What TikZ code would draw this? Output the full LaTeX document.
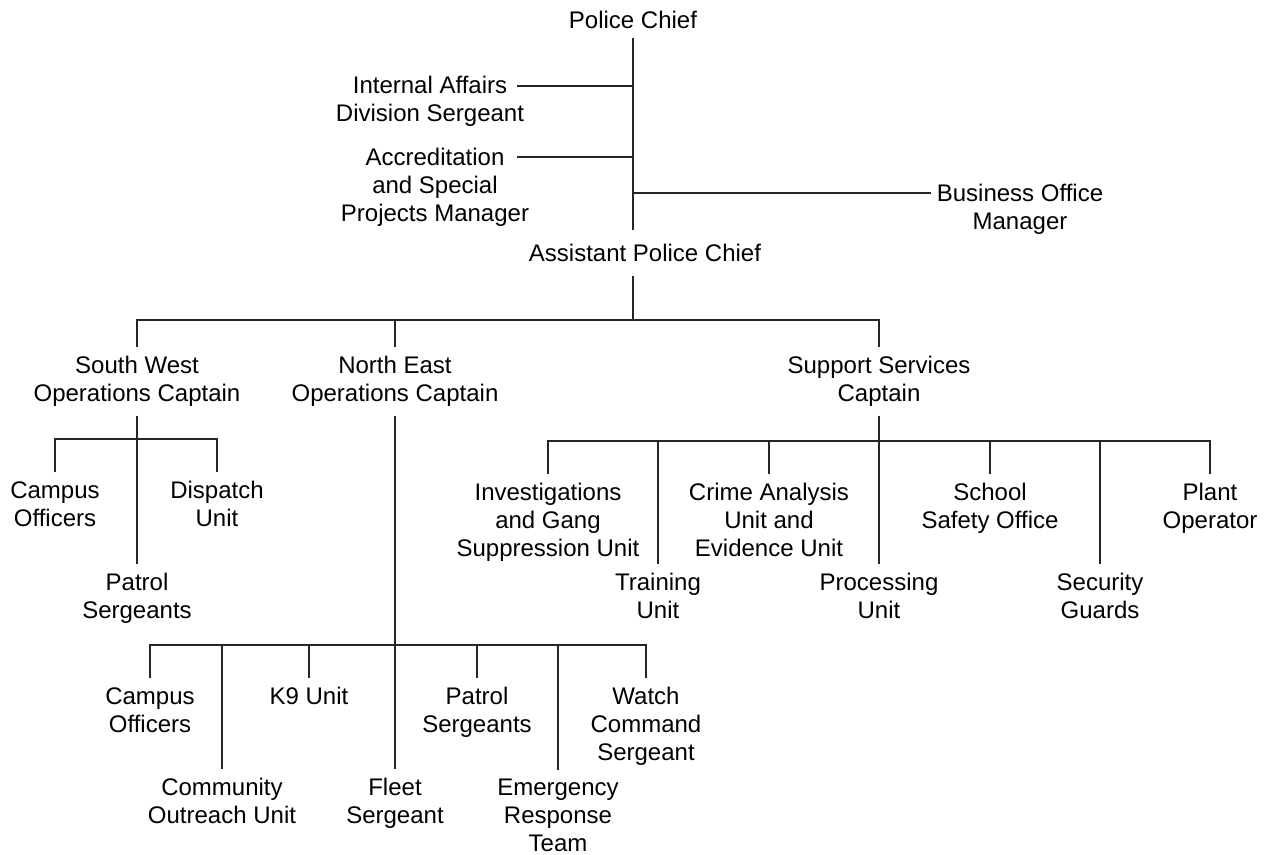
\documentclass[tikz,border=0pt]{standalone}
\usepackage{fontspec}
\setmainfont{Liberation Sans}
\begin{document}
\begin{tikzpicture}[x=0.75pt,y=-0.75pt,
  unit/.style={anchor=base,align=center,inner xsep=4.5pt,inner ysep=6.75pt,
    font=\fontsize{18}{21}\selectfont},
  conn/.style={draw=black!85,line width=0.9pt}]
\useasboundingbox[fill=white] (0,0) rectangle (1271,855);

% --- top of the command chain (node positions are last-line baselines)
\node[unit] (pc) at (633,29) {Police Chief};
\node[unit] (ia) at (430,122) {Internal Affairs\\Division Sergeant};
\node[unit] (acc) at (435,221.5) {Accreditation\\and Special\\Projects Manager};
\node[unit] (bom) at (1020,229.5) {Business Office\\Manager};
\node[unit,inner ysep=10.5pt] (apc) at (645,262) {Assistant Police Chief};

% --- captains
\node[unit] (sw) at (137,401.5) {South West\\Operations Captain};
\node[unit] (ne) at (395,401.5) {North East\\Operations Captain};
\node[unit] (ss) at (879,401.5) {Support Services\\Captain};

% --- south west units
\node[unit] (swco) at (55,526.5) {Campus\\Officers};
\node[unit] (swdu) at (217,526.5) {Dispatch\\Unit};
\node[unit] (swps) at (137,618.5) {Patrol\\Sergeants};

% --- north east units
\node[unit] (neco) at (150,732.5) {Campus\\Officers};
\node[unit] (necu) at (222,823.5) {Community\\Outreach Unit};
\node[unit] (nek9) at (309,704.5) {K9 Unit};
\node[unit] (nefs) at (395,823.5) {Fleet\\Sergeant};
\node[unit] (neps) at (477,732.5) {Patrol\\Sergeants};
\node[unit] (neer) at (558,851.5) {Emergency\\Response\\Team};
\node[unit] (newc) at (646,760.5) {Watch\\Command\\Sergeant};

% --- support services units
\node[unit] (igs) at (548,556.5) {Investigations\\and Gang\\Suppression Unit};
\node[unit] (tu) at (658,618.5) {Training\\Unit};
\node[unit] (ca) at (769,556.5) {Crime Analysis\\Unit and\\Evidence Unit};
\node[unit] (pu) at (879,618.5) {Processing\\Unit};
\node[unit] (sso) at (990,528.5) {School\\Safety Office};
\node[unit] (sg) at (1100,618.5) {Security\\Guards};
\node[unit] (po) at (1210,528.5) {Plant\\Operator};

% --- junction points
\coordinate (iaE) at (517,86);
\coordinate (accE) at (517,157);
\coordinate (bomJ) at (633,193);
\coordinate (b1) at (633,320);
\coordinate (b2) at (137,439);
\coordinate (b3) at (395,645);
\coordinate (b4) at (879,441);

% --- chief's trunk and staff branches
\draw[conn] (pc.south) -- (pc.south |- apc.north);
\draw[conn] (iaE) -- (iaE -| pc.south);
\draw[conn] (accE) -- (accE -| pc.south);
\draw[conn] (bomJ) -- (bomJ -| bom.west);

% --- assistant chief to captains
\draw[conn] (apc.south -| b1) -- (b1);
\draw[conn] (sw.north) -- (sw.north |- b1) -- (ss.north |- b1) -- (ss.north);
\draw[conn] (ne.north) -- (ne.north |- b1);

% --- south west
\draw[conn] (sw.south) -- (swps.north);
\draw[conn] (swco.north) -- (swco.north |- b2) -- (swdu.north |- b2) -- (swdu.north);

% --- north east
\draw[conn] (ne.south) -- (nefs.north);
\draw[conn] (neco.north) -- (neco.north |- b3) -- (newc.north |- b3) -- (newc.north);
\draw[conn] (necu.north) -- (necu.north |- b3);
\draw[conn] (nek9.north) -- (nek9.north |- b3);
\draw[conn] (neps.north) -- (neps.north |- b3);
\draw[conn] (neer.north) -- (neer.north |- b3);

% --- support services
\draw[conn] (ss.south) -- (pu.north);
\draw[conn] (igs.north) -- (igs.north |- b4) -- (po.north |- b4) -- (po.north);
\draw[conn] (tu.north) -- (tu.north |- b4);
\draw[conn] (ca.north) -- (ca.north |- b4);
\draw[conn] (sso.north) -- (sso.north |- b4);
\draw[conn] (sg.north) -- (sg.north |- b4);
\end{tikzpicture}
\end{document}
